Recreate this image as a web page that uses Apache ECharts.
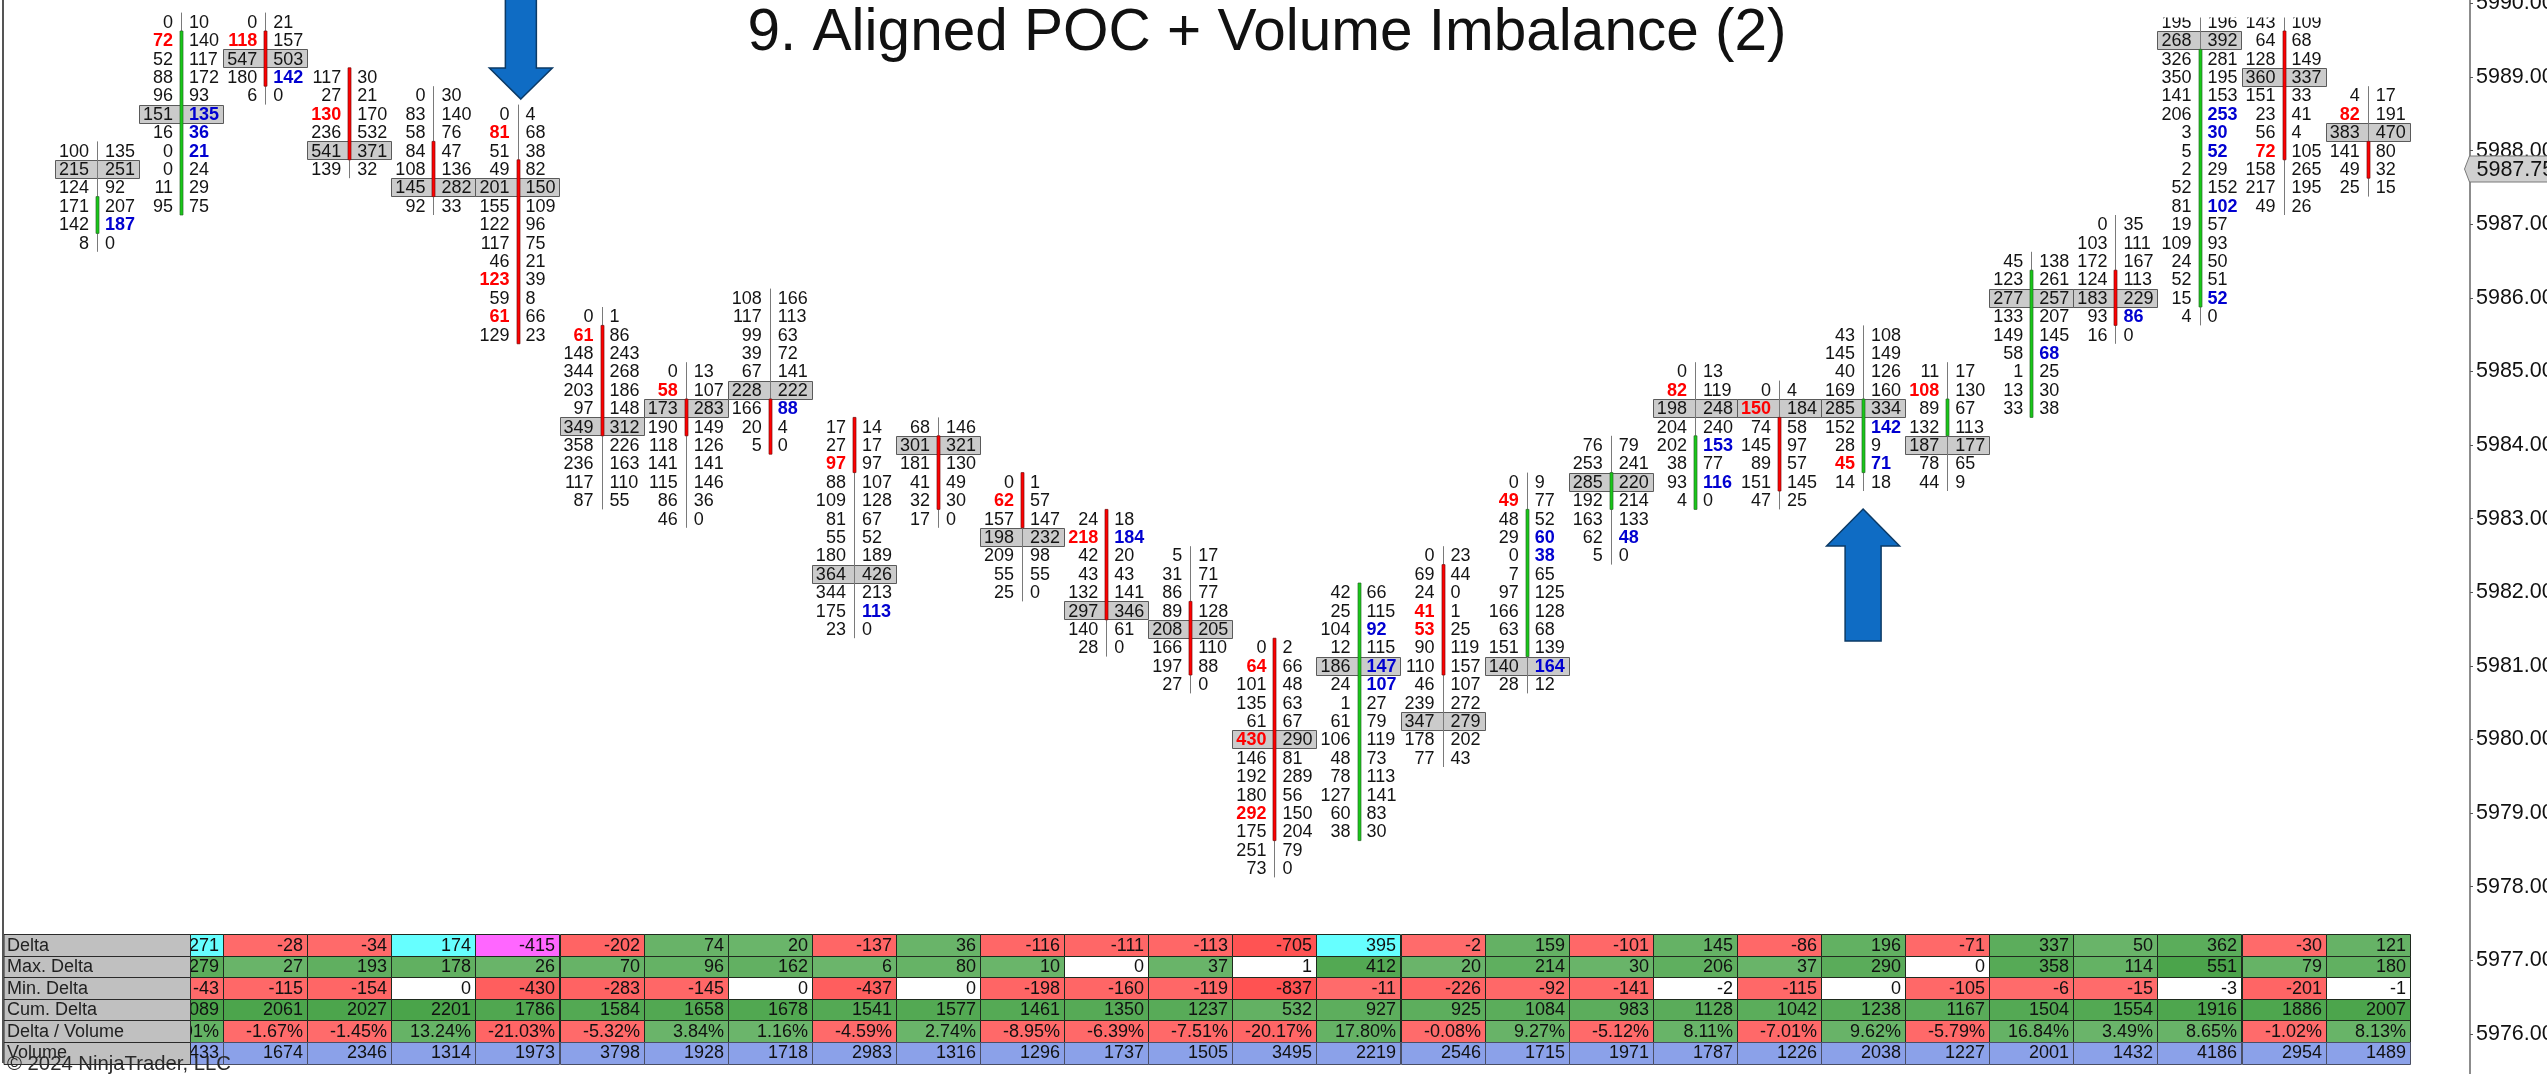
<!DOCTYPE html>
<html>
<head>
<meta charset="utf-8">
<style>html,body{margin:0;padding:0;background:#fff}#c{width:2547px;height:1074px}</style>
<script src="https://cdn.jsdelivr.net/npm/echarts@6/dist/echarts.min.js"></script>
</head>
<body>
<div id="c"></div>
<script>
const titleText = '9. Aligned POC + Volume Imbalance (2)';
const copyright = '\u00A9 2024 NinjaTrader, LLC';
const tickPrices = [5976,5977,5978,5979,5980,5981,5982,5983,5984,5985,5986,5987,5988,5989,5990];
const lastPrice = 5987.75;
const arrowDown = [5.04, 5988.70];
const arrowUp = [21, 5983.13];

const topPrices = [5988.00,5989.75,5989.75,5989.00,5988.75,5988.50,5985.75,5985.00,5986.00,5984.25,5984.25,5983.50,5983.00,5982.50,5981.25,5982.00,5982.50,5983.50,5984.00,5985.00,5984.75,5985.50,5985.00,5986.50,5987.00,5989.75,5989.75,5988.75];
const opens = [5987.00,5987.25,5989.50,5989.00,5988.00,5987.75,5985.50,5984.50,5984.50,5984.25,5984.00,5983.50,5983.00,5981.75,5981.25,5978.75,5982.25,5981.25,5983.25,5983.25,5984.25,5983.75,5984.25,5984.50,5986.25,5986.00,5989.50,5988.00];
const closes = [5987.25,5989.50,5989.00,5988.00,5987.50,5985.50,5984.25,5984.25,5984.00,5983.75,5983.25,5983.00,5981.75,5981.00,5978.75,5982.00,5981.00,5983.00,5983.50,5984.00,5983.50,5984.50,5984.50,5986.25,5985.75,5989.25,5988.00,5987.75];
const bids = [
 [100,215,124,171,142,8],
 [0,72,52,88,96,151,16,0,0,11,95],
 [0,118,547,180,6],
 [117,27,130,236,541,139],
 [0,83,58,84,108,145,92],
 [0,81,51,49,201,155,122,117,46,123,59,61,129],
 [0,61,148,344,203,97,349,358,236,117,87],
 [0,58,173,190,118,141,115,86,46],
 [108,117,99,39,67,228,166,20,5],
 [17,27,97,88,109,81,55,180,364,344,175,23],
 [68,301,181,41,32,17],
 [0,62,157,198,209,55,25],
 [24,218,42,43,132,297,140,28],
 [5,31,86,89,208,166,197,27],
 [0,64,101,135,61,430,146,192,180,292,175,251,73],
 [42,25,104,12,186,24,1,61,106,48,78,127,60,38],
 [0,69,24,41,53,90,110,46,239,347,178,77],
 [0,49,48,29,0,7,97,166,63,151,140,28],
 [76,253,285,192,163,62,5],
 [0,82,198,204,202,38,93,4],
 [0,150,74,145,89,151,47],
 [43,145,40,169,285,152,28,45,14],
 [11,108,89,132,187,78,44],
 [45,123,277,133,149,58,1,13,33],
 [0,103,172,124,183,93,16],
 [195,268,326,350,141,206,3,5,2,52,81,19,109,24,52,15,4],
 [143,64,128,360,151,23,56,72,158,217,49],
 [4,82,383,141,49,25]
];
const asks = [
 [135,251,92,207,187,0],
 [10,140,117,172,93,135,36,21,24,29,75],
 [21,157,503,142,0],
 [30,21,170,532,371,32],
 [30,140,76,47,136,282,33],
 [4,68,38,82,150,109,96,75,21,39,8,66,23],
 [1,86,243,268,186,148,312,226,163,110,55],
 [13,107,283,149,126,141,146,36,0],
 [166,113,63,72,141,222,88,4,0],
 [14,17,97,107,128,67,52,189,426,213,113,0],
 [146,321,130,49,30,0],
 [1,57,147,232,98,55,0],
 [18,184,20,43,141,346,61,0],
 [17,71,77,128,205,110,88,0],
 [2,66,48,63,67,290,81,289,56,150,204,79,0],
 [66,115,92,115,147,107,27,79,119,73,113,141,83,30],
 [23,44,0,1,25,119,157,107,272,279,202,43],
 [9,77,52,60,38,65,125,128,68,139,164,12],
 [79,241,220,214,133,48,0],
 [13,119,248,240,153,77,116,0],
 [4,184,58,97,57,145,25],
 [108,149,126,160,334,142,9,71,18],
 [17,130,67,113,177,65,9],
 [138,261,257,207,145,68,25,30,38],
 [35,111,167,113,229,86,0],
 [196,392,281,195,153,253,30,52,29,152,102,57,93,50,51,52,0],
 [109,68,149,337,33,41,4,105,265,195,26],
 [17,191,470,80,32,15]
];
const hotBids = [[],[1],[1],[2],[],[1,9,11],[1],[1],[],[2],[],[1],[1],[],[1,5,9],[],[3,4],[1],[],[1],[1],[7],[1],[],[],[],[7],[1]];
const hotAsks = [[4],[5,6,7],[3],[],[],[],[],[],[6],[10],[],[],[1],[],[],[2,4,5],[],[3,4,10],[5],[4,6],[],[5,7],[],[5],[5],[5,6,7,10,15],[],[]];

const metricNames = ['Delta','Max. Delta','Min. Delta','Cum. Delta','Delta / Volume','Volume'];
const deltaRow = [271,-28,-34,174,-415,-202,74,20,-137,36,-116,-111,-113,-705,395,-2,159,-101,145,-86,196,-71,337,50,362,-30,121];
const maxDeltaRow = [279,27,193,178,26,70,96,162,6,80,10,0,37,1,412,20,214,30,206,37,290,0,358,114,551,79,180];
const minDeltaRow = [-43,-115,-154,0,-430,-283,-145,0,-437,0,-198,-160,-119,-837,-11,-226,-92,-141,-2,-115,0,-105,-6,-15,-3,-201,-1];
const cumDeltaRow = [2089,2061,2027,2201,1786,1584,1658,1678,1541,1577,1461,1350,1237,532,927,925,1084,983,1128,1042,1238,1167,1504,1554,1916,1886,2007];
const deltaVolRow = [18.91,-1.67,-1.45,13.24,-21.03,-5.32,3.84,1.16,-4.59,2.74,-8.95,-6.39,-7.51,-20.17,17.80,-0.08,9.27,-5.12,8.11,-7.01,9.62,-5.79,16.84,3.49,8.65,-1.02,8.13];
const volumeRow = [1433,1674,2346,1314,1973,3798,1928,1718,2983,1316,1296,1737,1505,3495,2219,2546,1715,1971,1787,1226,2038,1227,2001,1432,4186,2954,1489];
const cyanDeltaCols = [1,4,15];
const magentaDeltaCols = [5];

/* ---------- layout ---------- */
const W = 2547, H = 1074;
const gridLeft = 5, axisX = 2470, colStep = 84.1, firstColX = 97;
const xMin = (gridLeft - firstColX) / colStep;
const xMax = (axisX - firstColX) / colStep;
const pxPerPoint = 73.6, refY = 77, refPrice = 5989;
const yMax = refPrice + refY / pxPerPoint;
const yMin = refPrice - (H - refY) / pxPerPoint;
const labelColEnd = (190.5 - firstColX) / colStep;
const FONT = '"Liberation Sans", Arial, sans-serif';
const fp = 18;

function lerp(a, b, t) {
  t = Math.max(0, Math.min(1, t));
  const pa = [1,3,5].map(i => parseInt(a.substr(i,2),16));
  const pb = [1,3,5].map(i => parseInt(b.substr(i,2),16));
  return 'rgb(' + pa.map((v,i) => Math.round(v + (pb[i]-v)*t)).join(',') + ')';
}
function signColor(v, scale) {
  return v < 0 ? lerp('#ff6b6b', '#ff5050', -v/scale) : lerp('#6bb56b', '#48a348', v/scale);
}
function cellFill(row, col, v) {
  if (row === 0) {
    if (cyanDeltaCols.indexOf(col) >= 0) return '#66ffff';
    if (magentaDeltaCols.indexOf(col) >= 0) return '#ff66ff';
    return signColor(v, 800);
  }
  if (row === 1 || row === 2) return Math.abs(v) <= 3 ? '#ffffff' : signColor(v, row === 1 ? 600 : 900);
  if (row === 3) return signColor(v, 2300);
  if (row === 4) return signColor(v, 100);
  return '#8ba1e9';
}
const tableRows = [deltaRow, maxDeltaRow, minDeltaRow, cumDeltaRow, deltaVolRow, volumeRow];
const cellData = [];
tableRows.forEach((vals, r) => vals.forEach((v, i) => cellData.push([i + 1, r, v])));
const rowData = [];
topPrices.forEach((top, c) => {
  const b = bids[c], a = asks[c];
  let pocI = 0, best = -1;
  b.forEach((v, i) => { if (v + a[i] > best) { best = v + a[i]; pocI = i; } });
  b.forEach((v, i) => rowData.push([c, top - 0.25 * i, v, a[i], i === pocI ? 1 : 0,
    hotBids[c].indexOf(i) >= 0 ? 1 : 0, hotAsks[c].indexOf(i) >= 0 ? 1 : 0]));
});
const candleData = topPrices.map((top, c) => [c, top, top - 0.25 * (bids[c].length - 1), opens[c], closes[c]]);

/* ---------- renderers ---------- */
function renderPoc(params, api) {
  if (!api.value(4)) return null;
  const p = api.coord([api.value(0), api.value(1)]);
  const w = api.size([1, 0])[0], h = api.size([0, 0.25])[1];
  return { type: 'rect', shape: { x: Math.round(p[0] - w/2) + .5, y: Math.round(p[1] - h/2) + .5, width: Math.round(w), height: Math.round(h) },
    style: { fill: '#cbcbcb', stroke: '#5a5a5a', lineWidth: 1 } };
}
function renderCandle(params, api) {
  const c = api.value(0), h = api.size([0, 0.25])[1];
  const t = api.coord([c, api.value(1)]), b = api.coord([c, api.value(2)]);
  const o = api.value(3), cl = api.value(4);
  const up = api.coord([c, Math.max(o, cl)]), dn = api.coord([c, Math.min(o, cl)]);
  const x = Math.round(t[0]);
  return { type: 'group', children: [
    { type: 'line', shape: { x1: x + .5, y1: t[1] - h/2, x2: x + .5, y2: b[1] + h/2 }, style: { stroke: '#7a7a7a', lineWidth: 1 } },
    { type: 'rect', shape: { x: x - 1, y: up[1] - h/2, width: 3, height: dn[1] - up[1] + h },
      style: { fill: cl > o ? '#18c818' : '#ff0000', stroke: cl > o ? '#2a6a2a' : '#7a1010', lineWidth: 0.7 } }
  ]};
}
function renderText(params, api) {
  const p = api.coord([api.value(0), api.value(1)]);
  const hb = api.value(5), ha = api.value(6);
  return { type: 'group', children: [
    { type: 'text', style: { x: p[0] - 8, y: p[1] + 1, text: String(api.value(2)), align: 'right', verticalAlign: 'middle',
      fill: hb ? '#ff0000' : '#141414', font: (hb ? 'bold ' : '') + fp + 'px ' + FONT } },
    { type: 'text', style: { x: p[0] + 8, y: p[1] + 1, text: String(api.value(3)), align: 'left', verticalAlign: 'middle',
      fill: ha ? '#0000d0' : '#141414', font: (ha ? 'bold ' : '') + fp + 'px ' + FONT } }
  ]};
}
function arrowShape(tip, dir, headW, shaftW, headH, len) {
  const y = d => tip[1] + dir * d;
  return [[tip[0], tip[1]], [tip[0] + headW/2, y(headH)], [tip[0] + shaftW/2, y(headH)], [tip[0] + shaftW/2, y(len)],
          [tip[0] - shaftW/2, y(len)], [tip[0] - shaftW/2, y(headH)], [tip[0] - headW/2, y(headH)]];
}
function renderArrow(params, api) {
  const tip = api.coord([api.value(0), api.value(1)]);
  const pts = api.value(2) > 0 ? arrowShape(tip, -1, 63, 31, 31, 110) : arrowShape(tip, 1, 73, 36, 37, 132);
  return { type: 'polygon', shape: { points: pts }, style: { fill: '#0f6cc4', stroke: '#0b3a66', lineWidth: 1.5 } };
}
function renderMarker(params, api) {
  const p = api.coord([xMax, api.value(0)]);
  const x = p[0], y = p[1];
  return { type: 'group', children: [
    { type: 'polygon', shape: { points: [[x - 5.5, y], [x - 0.5, y - 13], [W + 4, y - 13], [W + 4, y + 13], [x - 0.5, y + 13]] },
      style: { fill: '#d0d0d0', stroke: '#7a7a7a', lineWidth: 1 } },
    { type: 'text', style: { x: x + 6.5, y: y + 1, text: api.value(0).toFixed(2), align: 'left', verticalAlign: 'middle', fill: '#111', font: '21.5px ' + FONT } }
  ]};
}
function renderCell(params, api) {
  const col = api.value(0), r = api.value(1), v = api.value(2);
  const p = api.coord([col, r]);
  const w = api.size([1, 0])[0], h = api.size([0, 1])[1];
  const txt = r === 4 ? v.toFixed(2) + '%' : String(v);
  const x0 = Math.round(p[0] - w/2) + .5, y0 = Math.round(p[1] - h/2) + .5;
  return { type: 'group', children: [
    { type: 'rect', shape: { x: x0, y: y0, width: Math.round(w), height: Math.round(h) },
      style: { fill: cellFill(r, col, v), stroke: r === 5 ? '#4a4f66' : '#1f2a1f', lineWidth: 1 } },
    { type: 'text', style: { x: x0 + w - 4.5, y: p[1] + 1, text: txt, align: 'right', verticalAlign: 'middle', fill: '#111', font: fp + 'px ' + FONT } }
  ]};
}
function renderMetric(params, api) {
  const r = api.value(0);
  const a = api.coord([xMin, r]), b = api.coord([labelColEnd, r]);
  const h = api.size([0, 1])[1];
  const y0 = Math.round(a[1] - h/2) + .5;
  return { type: 'group', children: [
    { type: 'rect', shape: { x: a[0] - 1, y: y0, width: b[0] - a[0] + 1, height: Math.round(h) }, style: { fill: '#c0c0c0', stroke: '#2a2a2a', lineWidth: 1 } },
    { type: 'text', style: { x: a[0] + 2, y: a[1] + 1, text: metricNames[r], align: 'left', verticalAlign: 'middle', fill: '#222', font: fp + 'px ' + FONT } }
  ]};
}

const chart = echarts.init(document.getElementById('c'), null, { renderer: 'canvas' });
chart.setOption({
  animation: false,
  backgroundColor: '#ffffff',
  title: { text: titleText, left: 1262, top: -1, textAlign: 'center',
    textStyle: { fontFamily: FONT, fontSize: 58.5, fontWeight: 'normal', color: '#111' } },
  grid: [
    { left: gridLeft, right: W - axisX, top: 0, bottom: 0, outerBoundsMode: 'none', containLabel: false },
    { left: gridLeft, right: W - axisX, top: 934, height: 129, outerBoundsMode: 'none', containLabel: false }
  ],
  xAxis: [
    { type: 'value', gridIndex: 0, min: xMin, max: xMax, show: false },
    { type: 'value', gridIndex: 1, min: xMin, max: xMax, show: false }
  ],
  yAxis: [
    { type: 'value', gridIndex: 0, min: yMin, max: yMax, position: 'right', splitLine: { show: false },
      axisLine: { show: true, onZero: false, lineStyle: { color: '#666', width: 1.5 } },
      axisTick: { show: true, length: 3, lineStyle: { color: '#555' }, customValues: tickPrices },
      axisLabel: { show: true, margin: 6, color: '#111', fontSize: 21.5, fontFamily: FONT, hideOverlap: false, customValues: tickPrices, formatter: v => v.toFixed(2) } },
    { type: 'category', gridIndex: 1, inverse: true, data: metricNames, show: false }
  ],
  graphic: [
    { type: 'rect', z: 100, shape: { x: 2, y: 0, width: 2, height: 1063 }, style: { fill: '#555' } },
    { type: 'rect', z: 100, shape: { x: 2150, y: 0, width: 180, height: 17.5 }, style: { fill: '#fff' } },
    { type: 'text', z: 100, style: { x: 7, y: 1064, text: copyright, fill: '#2a2a2a', font: '20.3px ' + FONT, verticalAlign: 'middle' } }
  ],
  series: [
    { type: 'custom', name: 'poc', xAxisIndex: 0, yAxisIndex: 0, renderItem: renderPoc, data: rowData, silent: true },
    { type: 'custom', name: 'bars', xAxisIndex: 0, yAxisIndex: 0, renderItem: renderCandle, data: candleData, silent: true },
    { type: 'custom', name: 'volumes', xAxisIndex: 0, yAxisIndex: 0, renderItem: renderText, data: rowData, silent: true },
    { type: 'custom', name: 'arrows', xAxisIndex: 0, yAxisIndex: 0, renderItem: renderArrow, silent: true,
      data: [[arrowDown[0], arrowDown[1], 1], [arrowUp[0], arrowUp[1], -1]] },
    { type: 'custom', name: 'last', xAxisIndex: 0, yAxisIndex: 0, renderItem: renderMarker, data: [[lastPrice]], encode: { y: 0 }, silent: true },
    { type: 'custom', name: 'cells', xAxisIndex: 1, yAxisIndex: 1, renderItem: renderCell, data: cellData, silent: true },
    { type: 'custom', name: 'labels', xAxisIndex: 1, yAxisIndex: 1, renderItem: renderMetric, data: metricNames.map((n, i) => [i]), encode: { y: 0 }, silent: true }
  ]
});
</script>
</body>
</html>
